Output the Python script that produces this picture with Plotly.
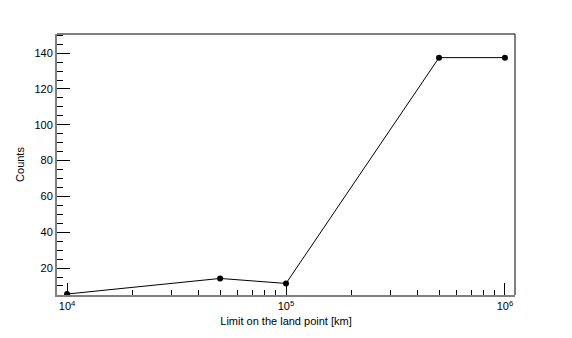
import plotly.graph_objects as go

# data
limits = [1e4, 5e4, 1e5, 5e5, 1e6]
counts = [5.5, 14.2, 11.4, 137.5, 137.5]

x_major = [1e4, 1e5, 1e6]
x_major_text = ["10<sup>4</sup>", "10<sup>5</sup>", "10<sup>6</sup>"]
x_minor = [m * d for d in [1e4, 1e5] for m in range(2, 10)]

font = dict(family="Liberation Sans, Arial, sans-serif", size=11, color="black")

fig = go.Figure()
fig.add_trace(go.Scatter(x=limits, y=counts, mode="lines+markers",
                         line=dict(color="black", width=1),
                         marker=dict(color="black", size=6),
                         showlegend=False))

fig.update_xaxes(type="log", range=[3.954, 6.046],
                 tickmode="array", tickvals=x_major, ticktext=x_major_text,
                 ticks="inside", ticklen=12, tickcolor="black", tickwidth=1,
                 minor=dict(tickmode="array", tickvals=x_minor, ticks="inside",
                            ticklen=5, tickcolor="black", tickwidth=1),
                 showgrid=False, zeroline=False,
                 showline=True, linecolor="#808080", linewidth=2,
                 tickfont=font,
                 title=dict(text="Limit on the land point [km]", font=font, standoff=6))

fig.update_yaxes(range=[4.95, 150.7],
                 tick0=0, dtick=20, ticks="inside", ticklen=13,
                 tickcolor="black", tickwidth=1,
                 minor=dict(dtick=5, tick0=0, ticks="inside", ticklen=6,
                            tickcolor="black", tickwidth=1),
                 showgrid=False, zeroline=False,
                 showline=True, linecolor="#808080", linewidth=2,
                 tickfont=font,
                 title=dict(text="Counts", font=font, standoff=8))

# top and right frame
fig.add_shape(type="line", xref="paper", yref="paper", x0=0, x1=1, y0=1, y1=1,
              line=dict(color="black", width=1))
fig.add_shape(type="line", xref="paper", yref="paper", x0=1, x1=1, y0=0, y1=1,
              line=dict(color="black", width=1))

fig.update_layout(width=572, height=338,
                  margin=dict(l=57, r=57, t=34, b=43),
                  plot_bgcolor="white", paper_bgcolor="white",
                  font=font)

fig.write_html("out.html", config=dict(displayModeBar=False),
               post_script="document.body.style.margin='0';")
